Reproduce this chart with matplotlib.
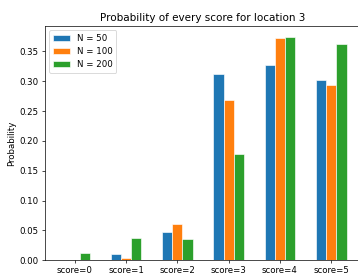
import numpy as np
import matplotlib
matplotlib.use("Agg")
import matplotlib.pyplot as plt

scores = ["score=0", "score=1", "score=2", "score=3", "score=4", "score=5"]
n50 = [0.0, 0.010, 0.047, 0.3125, 0.328, 0.302]
n100 = [0.0, 0.0045, 0.061, 0.268, 0.372, 0.2945]
n200 = [0.013, 0.037, 0.0365, 0.1775, 0.374, 0.362]
labels = ["N = 50", "N = 100", "N = 200"]

W, H = 358, 275
dpi = 62.5
fig = plt.figure(figsize=(W / dpi, H / dpi), dpi=dpi)
# the reference is cropped: right spine sits just past the edge
ax = fig.add_axes([45 / W, 14.7 / H, 316 / W, 234.3 / H])
x = np.arange(len(scores))
w = 0.2
ax.bar(x - w, n50, w, label=labels[0], edgecolor="white", linewidth=0.7)
ax.bar(x, n100, w, label=labels[1], edgecolor="white", linewidth=0.7)
ax.bar(x + w, n200, w, label=labels[2], edgecolor="white", linewidth=0.7)
ax.set_xticks(x)
ax.set_xticklabels(scores)
ax.set_ylabel("Probability")
ax.set_title("Probability of every score for location 3")
ax.legend(loc="upper left")
plt.savefig("out.png")
